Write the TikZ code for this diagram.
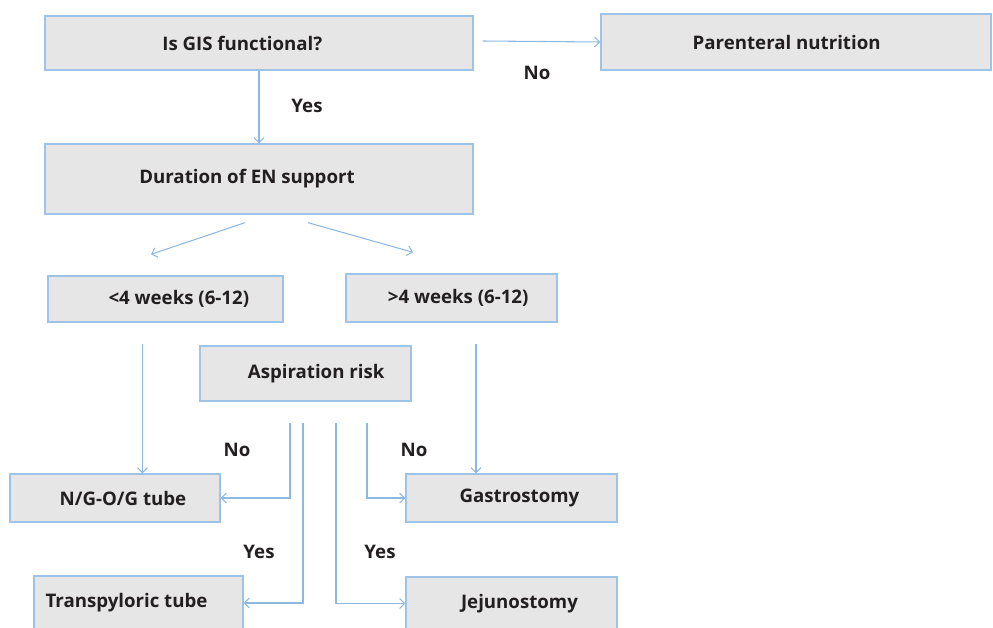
\documentclass[tikz,border=0pt]{standalone}
\usepackage{fontspec}
\setmainfont{Open Sans}
\usepackage{xcolor}
\usepackage{tikz}
\usetikzlibrary{arrows.meta,positioning}
\definecolor{boxfill}{HTML}{E6E6E7}
\definecolor{boxline}{HTML}{9DC3E6}
\definecolor{arrline}{HTML}{8DB8E2}
\definecolor{txtcol}{HTML}{231F20}
\tikzset{
  box/.style={draw=boxline,fill=boxfill,line width=1pt,inner sep=0pt,align=center,font=\fontsize{14}{16}\selectfont\bfseries,text=txtcol},
  lbl/.style={font=\fontsize{14}{16}\selectfont\bfseries,text=txtcol},
  arr/.style={-{Straight Barb[length=1.3mm,width=2.6mm]},draw=arrline,line width=0.8pt},
}
\begin{document}
\begin{tikzpicture}[x=0.75pt,y=-0.75pt]
\useasboundingbox (0,0) rectangle (993,628);
\clip (0,0) rectangle (993,628);
% boxes
\node[box,minimum width=321pt,minimum height=40.5pt] (gis) at (259,43) {Is GIS functional?\hspace*{25pt}};
\node[box,minimum width=292.5pt,minimum height=42pt] (pn) at (796,42) {\hspace*{-14pt}Parenteral nutrition};
\node[box,minimum width=321pt,minimum height=52.5pt] (dur) at (259,179) {Duration of EN support\hspace*{18pt}};
\node[box,minimum width=176.25pt,minimum height=34.5pt] (lt4) at (165.5,299) {\hspace*{20pt}<4 weeks (6-12)};
\node[box,minimum width=158.25pt,minimum height=36pt] (gt4) at (451.5,298) {\hspace*{10pt}>4 weeks (6-12)};
\node[box,minimum width=158.25pt,minimum height=41.25pt] (asp) at (305.5,373.5) {\hspace*{16pt}Aspiration risk};
\node[box,minimum width=157.5pt,minimum height=36pt] (ng) at (115,498) {\hspace*{12pt}N/G-O/G tube};
\node[box,minimum width=158.25pt,minimum height=36pt] (gas) at (511.5,498) {\hspace*{12pt}Gastrostomy};
\node[box,minimum width=156.75pt,minimum height=40.5pt] (tp) at (138.5,603) {Transpyloric tube\hspace*{18pt}};
\node[box,minimum width=158.25pt,minimum height=39.75pt] (jj) at (511.5,603.5) {\hspace*{12pt}Jejunostomy};
% connectors
\draw[arr] ([shift={(9,-2)}]gis.east) -- (pn.west);
\draw[arr] (gis) -- (dur);
\draw[arr] ([shift={(-14,8)}]dur.south) -- ([shift={(-14.5,-21)}]lt4.north);
\draw[arr] ([shift={(49,8)}]dur.south) -- ([shift={(-38.5,-21)}]gt4.north);
\draw[arr] ([shift={(-23,21)}]lt4.south) coordinate (l1) -- (l1 |- ng.north);
\draw[arr] ([shift={(24.5,21)}]gt4.south) coordinate (r1) -- (r1 |- gas.north);
\foreach \dx/\tgt in {-15.5/ng.east,-2.5/tp.east,30.5/jj.west,61.5/gas.west}
  \draw[arr] ([shift={(\dx,21)}]asp.south) |- (\tgt);
% labels
\node[lbl] (no1) at (537,73) {No};
\node[lbl] (yes1) at (307,106) {Yes};
\node[lbl] (no2) at (237,450) {No};
\node[lbl] (no3) at (414,450) {No};
\node[lbl] (yes2) at (259,552) {Yes};
\node[lbl] (yes3) at (380,552) {Yes};
\end{tikzpicture}
\end{document}
